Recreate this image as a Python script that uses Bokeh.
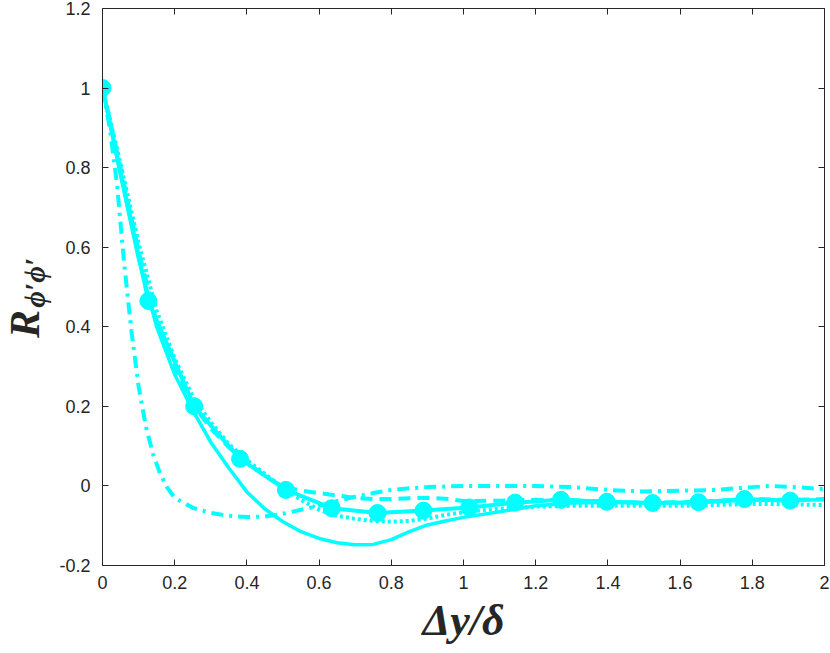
import math
from bokeh.plotting import figure
from bokeh.layouts import row
from bokeh.models import Range1d, LinearAxis, FixedTicker, CustomJSTickFormatter
from bokeh.core.properties import value
from bokeh.embed import file_html
from bokeh.resources import INLINE

# ---------------- data ----------------
x_ticks = [0, 0.2, 0.4, 0.6, 0.8, 1.0, 1.2, 1.4, 1.6, 1.8, 2.0]
x_labels = ["0", "0.2", "0.4", "0.6", "0.8", "1", "1.2", "1.4", "1.6", "1.8", "2"]
y_ticks = [-0.2, 0, 0.2, 0.4, 0.6, 0.8, 1.0, 1.2]
y_labels = ["-0.2", "0", "0.2", "0.4", "0.6", "0.8", "1", "1.2"]

grid_x = [0, 0.05, 0.1, 0.15, 0.2, 0.25, 0.3, 0.35, 0.4, 0.45, 0.5, 0.55, 0.6, 0.65,
          0.7, 0.75, 0.8, 0.85, 0.9, 0.95, 1.0, 1.1, 1.2, 1.3, 1.4, 1.5, 1.6, 1.7,
          1.8, 1.9, 2.0]

solid_y = [1.0, 0.78, 0.57, 0.40, 0.28, 0.19, 0.11, 0.045, -0.015, -0.058, -0.09,
           -0.115, -0.132, -0.143, -0.148, -0.147, -0.135, -0.115, -0.098, -0.088,
           -0.079, -0.065, -0.05, -0.043, -0.041, -0.042, -0.042, -0.04, -0.035,
           -0.036, -0.035]

dashed_y = [1.0, 0.80, 0.59, 0.41, 0.29, 0.205, 0.145, 0.097, 0.06, 0.025, -0.002,
            -0.012, -0.018, -0.024, -0.03, -0.033, -0.033, -0.031, -0.03, -0.032,
            -0.038, -0.037, -0.035, -0.036, -0.04, -0.042, -0.041, -0.038, -0.033,
            -0.035, -0.033]

dotted_y = [1.0, 0.81, 0.61, 0.44, 0.32, 0.225, 0.16, 0.105, 0.065, 0.03, -0.005,
            -0.035, -0.06, -0.075, -0.083, -0.088, -0.09, -0.088, -0.082, -0.073,
            -0.066, -0.057, -0.052, -0.05, -0.05, -0.05, -0.05, -0.048, -0.045,
            -0.046, -0.048]

dashdot_x = [0, 0.02, 0.04, 0.06, 0.08, 0.1, 0.12, 0.14, 0.16, 0.18, 0.2, 0.25, 0.3,
             0.35, 0.4, 0.45, 0.5, 0.55, 0.6, 0.65, 0.7, 0.75, 0.8, 0.85, 0.9, 1.0,
             1.1, 1.2, 1.3, 1.4, 1.5, 1.6, 1.7, 1.8, 1.85, 1.9, 2.0]
dashdot_y = [1.0, 0.90, 0.76, 0.56, 0.39, 0.25, 0.15, 0.08, 0.03, -0.005, -0.03,
             -0.055, -0.068, -0.075, -0.078, -0.077, -0.07, -0.06, -0.05, -0.038,
             -0.027, -0.018, -0.01, -0.006, -0.003, 0.0, 0.0, 0.0, -0.003, -0.01,
             -0.014, -0.012, -0.01, -0.003, 0.0, -0.002, -0.008]

marker_x = [0, 0.127, 0.254, 0.381, 0.508, 0.635, 0.762, 0.889, 1.016, 1.143, 1.270,
            1.397, 1.524, 1.651, 1.778, 1.905]
marker_y = [1.0, 0.465, 0.20, 0.068, -0.01, -0.056, -0.068, -0.062, -0.054, -0.042,
            -0.035, -0.04, -0.043, -0.041, -0.033, -0.037]

y_title_main = "R"
y_title_sub = "ϕ′ϕ′"
x_title = "Δy/δ"

CYAN = "#00FFFF"
AX = "#262626"
W = 830
H = 653
TOP = 8
BOTTOM = 88
LEFT_W = 56

# ---------------- main figure ----------------
p = figure(width=W - LEFT_W, height=H, output_backend="svg", toolbar_location=None,
           x_range=Range1d(0, 2), y_range=Range1d(-0.2, 1.2),
           min_border_left=101 - LEFT_W, min_border_right=6, min_border_top=TOP,
           min_border_bottom=BOTTOM)
p.grid.visible = False
p.outline_line_color = None
p.background_fill_color = "white"
p.border_fill_color = "white"

bottom = p.below[0]
left = p.left[0]

xfmt = CustomJSTickFormatter(args=dict(vals=x_ticks, labs=x_labels), code="""
const i = vals.findIndex(v => Math.abs(v - tick) < 1e-9);
return i >= 0 ? labs[i] : '';""")
yfmt = CustomJSTickFormatter(args=dict(vals=y_ticks, labs=y_labels), code="""
const i = vals.findIndex(v => Math.abs(v - tick) < 1e-9);
return i >= 0 ? labs[i] : '';""")

def style_axis(ax, ticks, fmt, show_labels=True):
    ax.ticker = FixedTicker(ticks=ticks)
    ax.formatter = fmt
    ax.major_tick_in = 6
    ax.major_tick_out = 0
    ax.minor_tick_in = 0
    ax.minor_tick_out = 0
    ax.axis_line_color = AX
    ax.axis_line_width = 1
    ax.major_tick_line_color = AX
    ax.major_label_text_color = AX
    ax.major_label_text_font = "Liberation Sans"
    ax.major_label_text_font_size = "18px"
    if not show_labels:
        ax.major_label_text_alpha = 0
        ax.major_label_text_font_size = "1px"
        ax.major_label_standoff = 0

style_axis(bottom, x_ticks, xfmt)
style_axis(left, y_ticks, yfmt)
bottom.major_label_standoff = 10
left.major_label_standoff = 12

bottom.axis_label = x_title
bottom.axis_label_text_font = "Liberation Serif"
bottom.axis_label_text_font_style = "bold italic"
bottom.axis_label_text_font_size = "44px"
bottom.axis_label_text_color = AX
bottom.axis_label_standoff = 4

top_ax = LinearAxis()
style_axis(top_ax, x_ticks, xfmt, show_labels=False)
p.add_layout(top_ax, "above")
right_ax = LinearAxis()
style_axis(right_ax, y_ticks, yfmt, show_labels=False)
p.add_layout(right_ax, "right")

# ---------------- series ----------------
p.line(grid_x, solid_y, line_color=CYAN, line_width=3.5)
p.line(grid_x, dashed_y, line_color=CYAN, line_width=4, line_dash="12 7")
p.line(grid_x, dotted_y, line_color=CYAN, line_width=4, line_dash="3 3")
p.line(dashdot_x, dashdot_y, line_color=CYAN, line_width=4, line_dash="12 6 3 6")
p.line(marker_x, marker_y, line_color=CYAN, line_width=4)
p.scatter(marker_x, marker_y, marker="circle", size=17, fill_color=CYAN,
          line_color=CYAN)

# ---------------- y label panel ----------------
q = figure(width=LEFT_W, height=H, output_backend="svg", toolbar_location=None,
           x_range=Range1d(0, LEFT_W), y_range=Range1d(-0.2, 1.2),
           x_axis_location=None, y_axis_location=None,
           min_border_left=0, min_border_right=0, min_border_top=TOP,
           min_border_bottom=BOTTOM)
q.grid.visible = False
q.outline_line_color = None
q.border_fill_color = "white"
q.background_fill_color = "white"
q.text(x=[24], y=[0.372], text=[y_title_main], angle=math.pi / 2,
       text_font=value("Liberation Serif"), text_font_style="bold italic",
       text_font_size="42px", text_color=AX, text_align="left",
       text_baseline="alphabetic")
q.text(x=[34], y=[0.448], text=[y_title_sub], angle=math.pi / 2,
       text_font=value("Liberation Serif"), text_font_style="bold italic",
       text_font_size="29px", text_color=AX, text_align="left",
       text_baseline="alphabetic")

layout = row(q, p)
open("out.html", "w").write(file_html(layout, INLINE))
